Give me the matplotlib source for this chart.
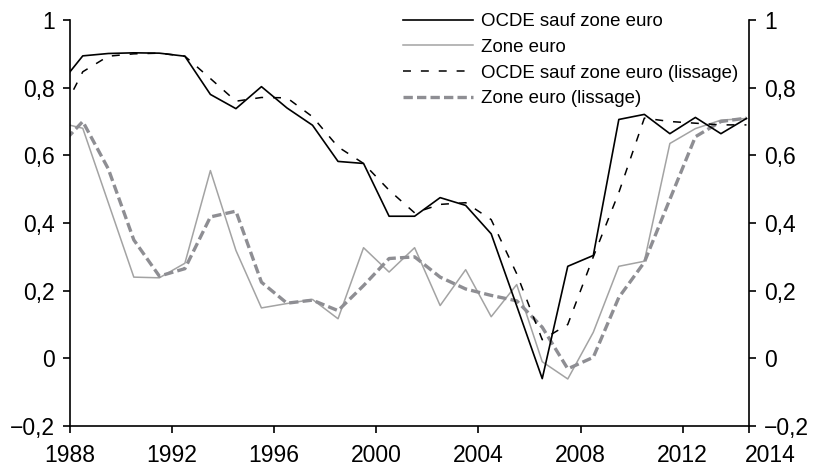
# Taux de couverture / corrélation : OCDE sauf zone euro vs zone euro
import numpy as np
import matplotlib.pyplot as plt
import matplotlib.transforms as mtransforms

plt.rcParams['font.family'] = ['Liberation Sans', 'DejaVu Sans']

# annual values, drawn at mid-year (first point is clipped by the left axis)
years = list(range(1987, 2015))
ocde = [0.80, 0.894, 0.901, 0.903, 0.902, 0.893, 0.78, 0.738, 0.803, 0.74,
        0.689, 0.582, 0.576, 0.42, 0.42, 0.475, 0.452, 0.368, 0.155, -0.06,
        0.272, 0.304, 0.706, 0.721, 0.664, 0.712, 0.664, 0.709]
euro = [0.698, 0.68, 0.46, 0.24, 0.238, 0.281, 0.555, 0.319, 0.149, 0.162,
        0.174, 0.117, 0.327, 0.255, 0.327, 0.156, 0.262, 0.123, 0.218, -0.01,
        -0.061, 0.077, 0.272, 0.287, 0.635, 0.679, 0.704, 0.709]
ocde_liss = [0.70, 0.847, 0.893, 0.90, 0.902, 0.893, 0.827, 0.76, 0.771, 0.77,
             0.714, 0.625, 0.576, 0.497, 0.43, 0.455, 0.46, 0.41, 0.25, 0.055,
             0.10, 0.30, 0.49, 0.71, 0.70, 0.695, 0.69, 0.69]
euro_liss = [0.62, 0.70, 0.56, 0.35, 0.243, 0.265, 0.418, 0.435, 0.225, 0.163,
             0.172, 0.141, 0.215, 0.295, 0.30, 0.24, 0.205, 0.186, 0.17, 0.092,
             -0.031, 0.003, 0.18, 0.284, 0.47, 0.655, 0.70, 0.71]

labels = ['OCDE sauf zone euro', 'Zone euro',
          'OCDE sauf zone euro (lissage)', 'Zone euro (lissage)']

x = np.array(years) + 0.5
x_end = 2014.6

fig = plt.figure(figsize=(8.14, 4.68), dpi=100)
ax = fig.add_axes([70/814, 42/468, 679/814, 406/468])

l1, = ax.plot(x, ocde, color='black', lw=1.2, zorder=4)
l2, = ax.plot(x, euro, color='#a3a3a3', lw=1.1, zorder=2)
l3, = ax.plot(x, ocde_liss, color='black', lw=1.1, ls=(0, (5.2, 6.5)), zorder=3)
l4, = ax.plot(x, euro_liss, color='#8e8e93', lw=2.4, ls=(0, (2.8, 1.25)), zorder=2.5)

ax.set_xlim(1988, x_end)
ax.set_ylim(-0.2, 1)

yt = [-0.2, 0, 0.2, 0.4, 0.6, 0.8, 1]
ax.set_yticks(yt)
ax.set_yticklabels(['\u22120,2', '0', '0,2', '0,4', '0,6', '0,8', '1'])
xt = [1988, 1992, 1996, 2000, 2004, 2008, 2012, x_end]
ax.set_xticks(xt)
ax.set_xticklabels(['1988', '1992', '1996', '2000', '2004', '2008', '2012', '2014'])

ax.tick_params(axis='both', direction='out', length=5, width=1.2,
               labelsize=16.5, pad=6)
ax.tick_params(axis='y', right=True, labelright=True)
ax.tick_params(axis='x', pad=8)

last = ax.get_xticklabels()[-1]
last.set_ha('left')
last.set_transform(last.get_transform() +
                   mtransforms.ScaledTranslation(-4/100, 0, fig.dpi_scale_trans))

ax.spines['top'].set_visible(False)
for s in ['left', 'right', 'bottom']:
    ax.spines[s].set_linewidth(1.2)

fig.legend([l1, l2, l3, l4], labels, loc='upper left',
           bbox_to_anchor=(403/814, 1 - 13/468), frameon=False,
           fontsize=13.4, handlelength=3.75, handletextpad=0.42,
           labelspacing=0.47, borderpad=0, borderaxespad=0)

fig.savefig('out.png', dpi=100)
